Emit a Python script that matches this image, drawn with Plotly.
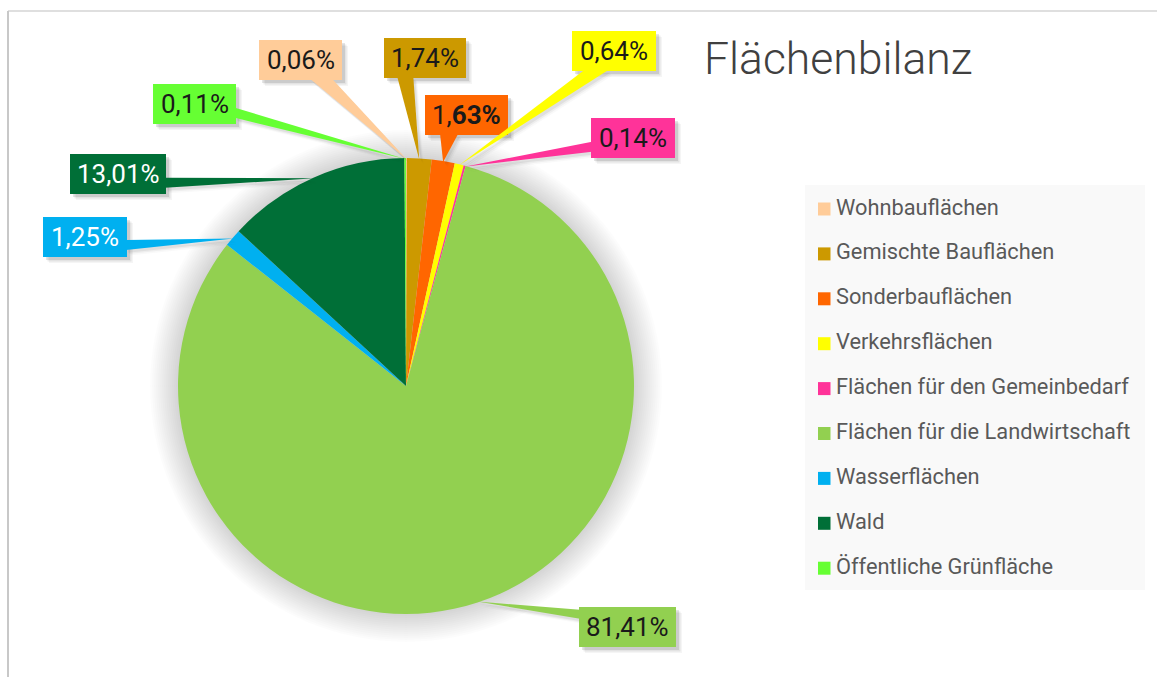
import math
import plotly.graph_objects as go

# --- data -----------------------------------------------------------------
categories = [
    "Wohnbauflächen",
    "Gemischte Bauflächen",
    "Sonderbauflächen",
    "Verkehrsflächen",
    "Flächen für den Gemeinbedarf",
    "Flächen für die Landwirtschaft",
    "Wasserflächen",
    "Wald",
    "Öffentliche Grünfläche",
]
shares = [0.06, 1.74, 1.63, 0.64, 0.14, 81.41, 1.25, 13.01, 0.11]

# --- styling --------------------------------------------------------------
colors = ["#FFCC99", "#CC9900", "#FF6600", "#FFFF00", "#FF3399",
          "#92D050", "#00B0F0", "#006F37", "#66FF33"]
label_font_colors = ["#1A1A1A", "#1A1A1A", "#1A1A1A", "#1A1A1A", "#1A1A1A",
                     "#1A1A1A", "#FFFFFF", "#FFFFFF", "#1A1A1A"]

W, H = 1157, 677
CX, CY, R = 406, 386, 228          # pie centre and radius in pixels
FONT = "Roboto"

# callout boxes: x0, y0, x1, y1, edge carrying the pointer, position along edge, pointer base width
callout_boxes = [
    (259, 40, 342, 80, "bottom", 0.75, 22),
    (384, 38, 466, 78, "bottom", 0.26, 16),
    (425, 95, 508, 135, "bottom", 0.29, 18),
    (572, 31, 656, 71, "bottom", 0.29, 24),
    (591, 118, 675, 158, "left", 0.72, 10),
    (579, 607, 676, 647, "left", 0.18, 9),
    (43, 217, 127, 257, "right", 0.70, 10),
    (70, 154, 166, 194, "right", 0.72, 10),
    (153, 84, 236, 124, "right", 0.72, 10),
]


def fmt_share(v):
    return f"{v:.2f}".replace(".", ",") + "%"


def label_text(i, v):
    s = fmt_share(v)
    if categories[i] == "Sonderbauflächen":
        head, tail = s.split(",")
        return f"{head},<b>{tail}</b>"
    return s


def pointer_tip(i):
    total = sum(shares)
    start = sum(shares[:i]) / total * 360.0
    mid = math.radians(start + shares[i] / total * 360.0 / 2.0)
    rr = R - 1
    return CX + rr * math.sin(mid), CY - rr * math.cos(mid)


def pointer_path(box, tip, dx=0.0, dy=0.0):
    x0, y0, x1, y1, side, pos, bw = box
    if side == "bottom":
        bx = x0 + pos * (x1 - x0)
        p1, p2 = (bx - bw / 2, y1 - 1), (bx + bw / 2, y1 - 1)
    elif side == "left":
        by = y0 + pos * (y1 - y0)
        p1, p2 = (x0 + 1, by - bw / 2), (x0 + 1, by + bw / 2)
    else:
        by = y0 + pos * (y1 - y0)
        p1, p2 = (x1 - 1, by - bw / 2), (x1 - 1, by + bw / 2)
    pts = [p1, tip, p2]
    return "M " + " L ".join(f"{px + dx:.2f},{py + dy:.2f}" for px, py in pts) + " Z"


fig = go.Figure()

# invisible trace that spans a pixel-based overlay coordinate system
fig.add_trace(go.Scatter(x=[0, W], y=[0, H], mode="markers",
                         marker=dict(opacity=0), hoverinfo="skip", showlegend=False))

fig.add_trace(go.Pie(
    labels=categories,
    values=shares,
    marker=dict(colors=colors, line=dict(width=0)),
    sort=False,
    direction="clockwise",
    rotation=0,
    textinfo="none",
    hoverinfo="label+percent",
    showlegend=False,
    domain=dict(x=[(CX - R) / W, (CX + R) / W], y=[1 - (CY + R) / H, 1 - (CY - R) / H]),
))

shapes = []
annotations = []

# chart frame
shapes.append(dict(type="line", xref="x", yref="y", x0=8, y0=11, x1=W, y1=11,
                   line=dict(color="#D4D4D4", width=1.5), layer="below"))
shapes.append(dict(type="line", xref="x", yref="y", x0=8, y0=11, x1=8, y1=H,
                   line=dict(color="#C8C8C8", width=2), layer="below"))

# soft glow beneath the pie
for k in range(1, 15):
    r = R + 2 * k
    shapes.append(dict(type="circle", xref="x", yref="y",
                       x0=CX - r, y0=CY - r, x1=CX + r, y1=CY + r,
                       fillcolor="rgba(0,0,0,0.012)", line=dict(width=0), layer="below"))

# callouts: shadows first, then pointers and boxes, then text
for i, box in enumerate(callout_boxes):
    x0, y0, x1, y1 = box[:4]
    tip = pointer_tip(i)
    for off, a in ((3, 0.10), (4.5, 0.07), (6, 0.04)):
        shapes.append(dict(type="rect", xref="x", yref="y",
                           x0=x0 + off, y0=y0 + off, x1=x1 + off, y1=y1 + off,
                           fillcolor=f"rgba(0,0,0,{a})", line=dict(width=0), layer="above"))
        shapes.append(dict(type="path", xref="x", yref="y",
                           path=pointer_path(box, tip, off * 0.7, off * 0.9),
                           fillcolor=f"rgba(0,0,0,{a * 0.6})", line=dict(width=0), layer="above"))

for i, box in enumerate(callout_boxes):
    x0, y0, x1, y1 = box[:4]
    tip = pointer_tip(i)
    shapes.append(dict(type="path", xref="x", yref="y", path=pointer_path(box, tip),
                       fillcolor=colors[i], line=dict(width=0), layer="above"))
    shapes.append(dict(type="rect", xref="x", yref="y", x0=x0, y0=y0, x1=x1, y1=y1,
                       fillcolor=colors[i], line=dict(width=0), layer="above"))
    annotations.append(dict(x=(x0 + x1) / 2, y=(y0 + y1) / 2, xref="x", yref="y",
                            text=label_text(i, shares[i]), showarrow=False,
                            xanchor="center", yanchor="middle",
                            font=dict(family=FONT, size=26, color=label_font_colors[i])))

# legend panel
LX0, LY0, LX1, LY1 = 805, 185, 1145, 590
shapes.append(dict(type="rect", xref="x", yref="y", x0=LX0, y0=LY0, x1=LX1, y1=LY1,
                   fillcolor="#F9F9F9", line=dict(width=0), layer="below"))
row0, step = 209, 44.9
for i, name in enumerate(categories):
    yc = row0 + i * step
    shapes.append(dict(type="rect", xref="x", yref="y", x0=818, y0=yc - 6.5, x1=830.5, y1=yc + 6.5,
                       fillcolor=colors[i], line=dict(width=0), layer="above"))
    annotations.append(dict(x=834, y=yc - 2, xref="x", yref="y", text=name, showarrow=False,
                            xanchor="left", yanchor="middle",
                            font=dict(family=FONT, size=21.8, color="#595959")))

# title
annotations.append(dict(x=702, y=59, xref="x", yref="y", text="Flächenbilanz", showarrow=False,
                        xanchor="left", yanchor="middle",
                        font=dict(family=FONT, size=44.5, color="#404040", weight=300)))

fig.update_layout(
    width=W, height=H, autosize=False,
    margin=dict(l=0, r=0, t=0, b=0),
    paper_bgcolor="white", plot_bgcolor="white",
    showlegend=False,
    xaxis=dict(range=[0, W], visible=False, fixedrange=True, domain=[0, 1]),
    yaxis=dict(range=[H, 0], visible=False, fixedrange=True, domain=[0, 1]),
    shapes=shapes,
    annotations=annotations,
)

fig.write_html("out.html")
